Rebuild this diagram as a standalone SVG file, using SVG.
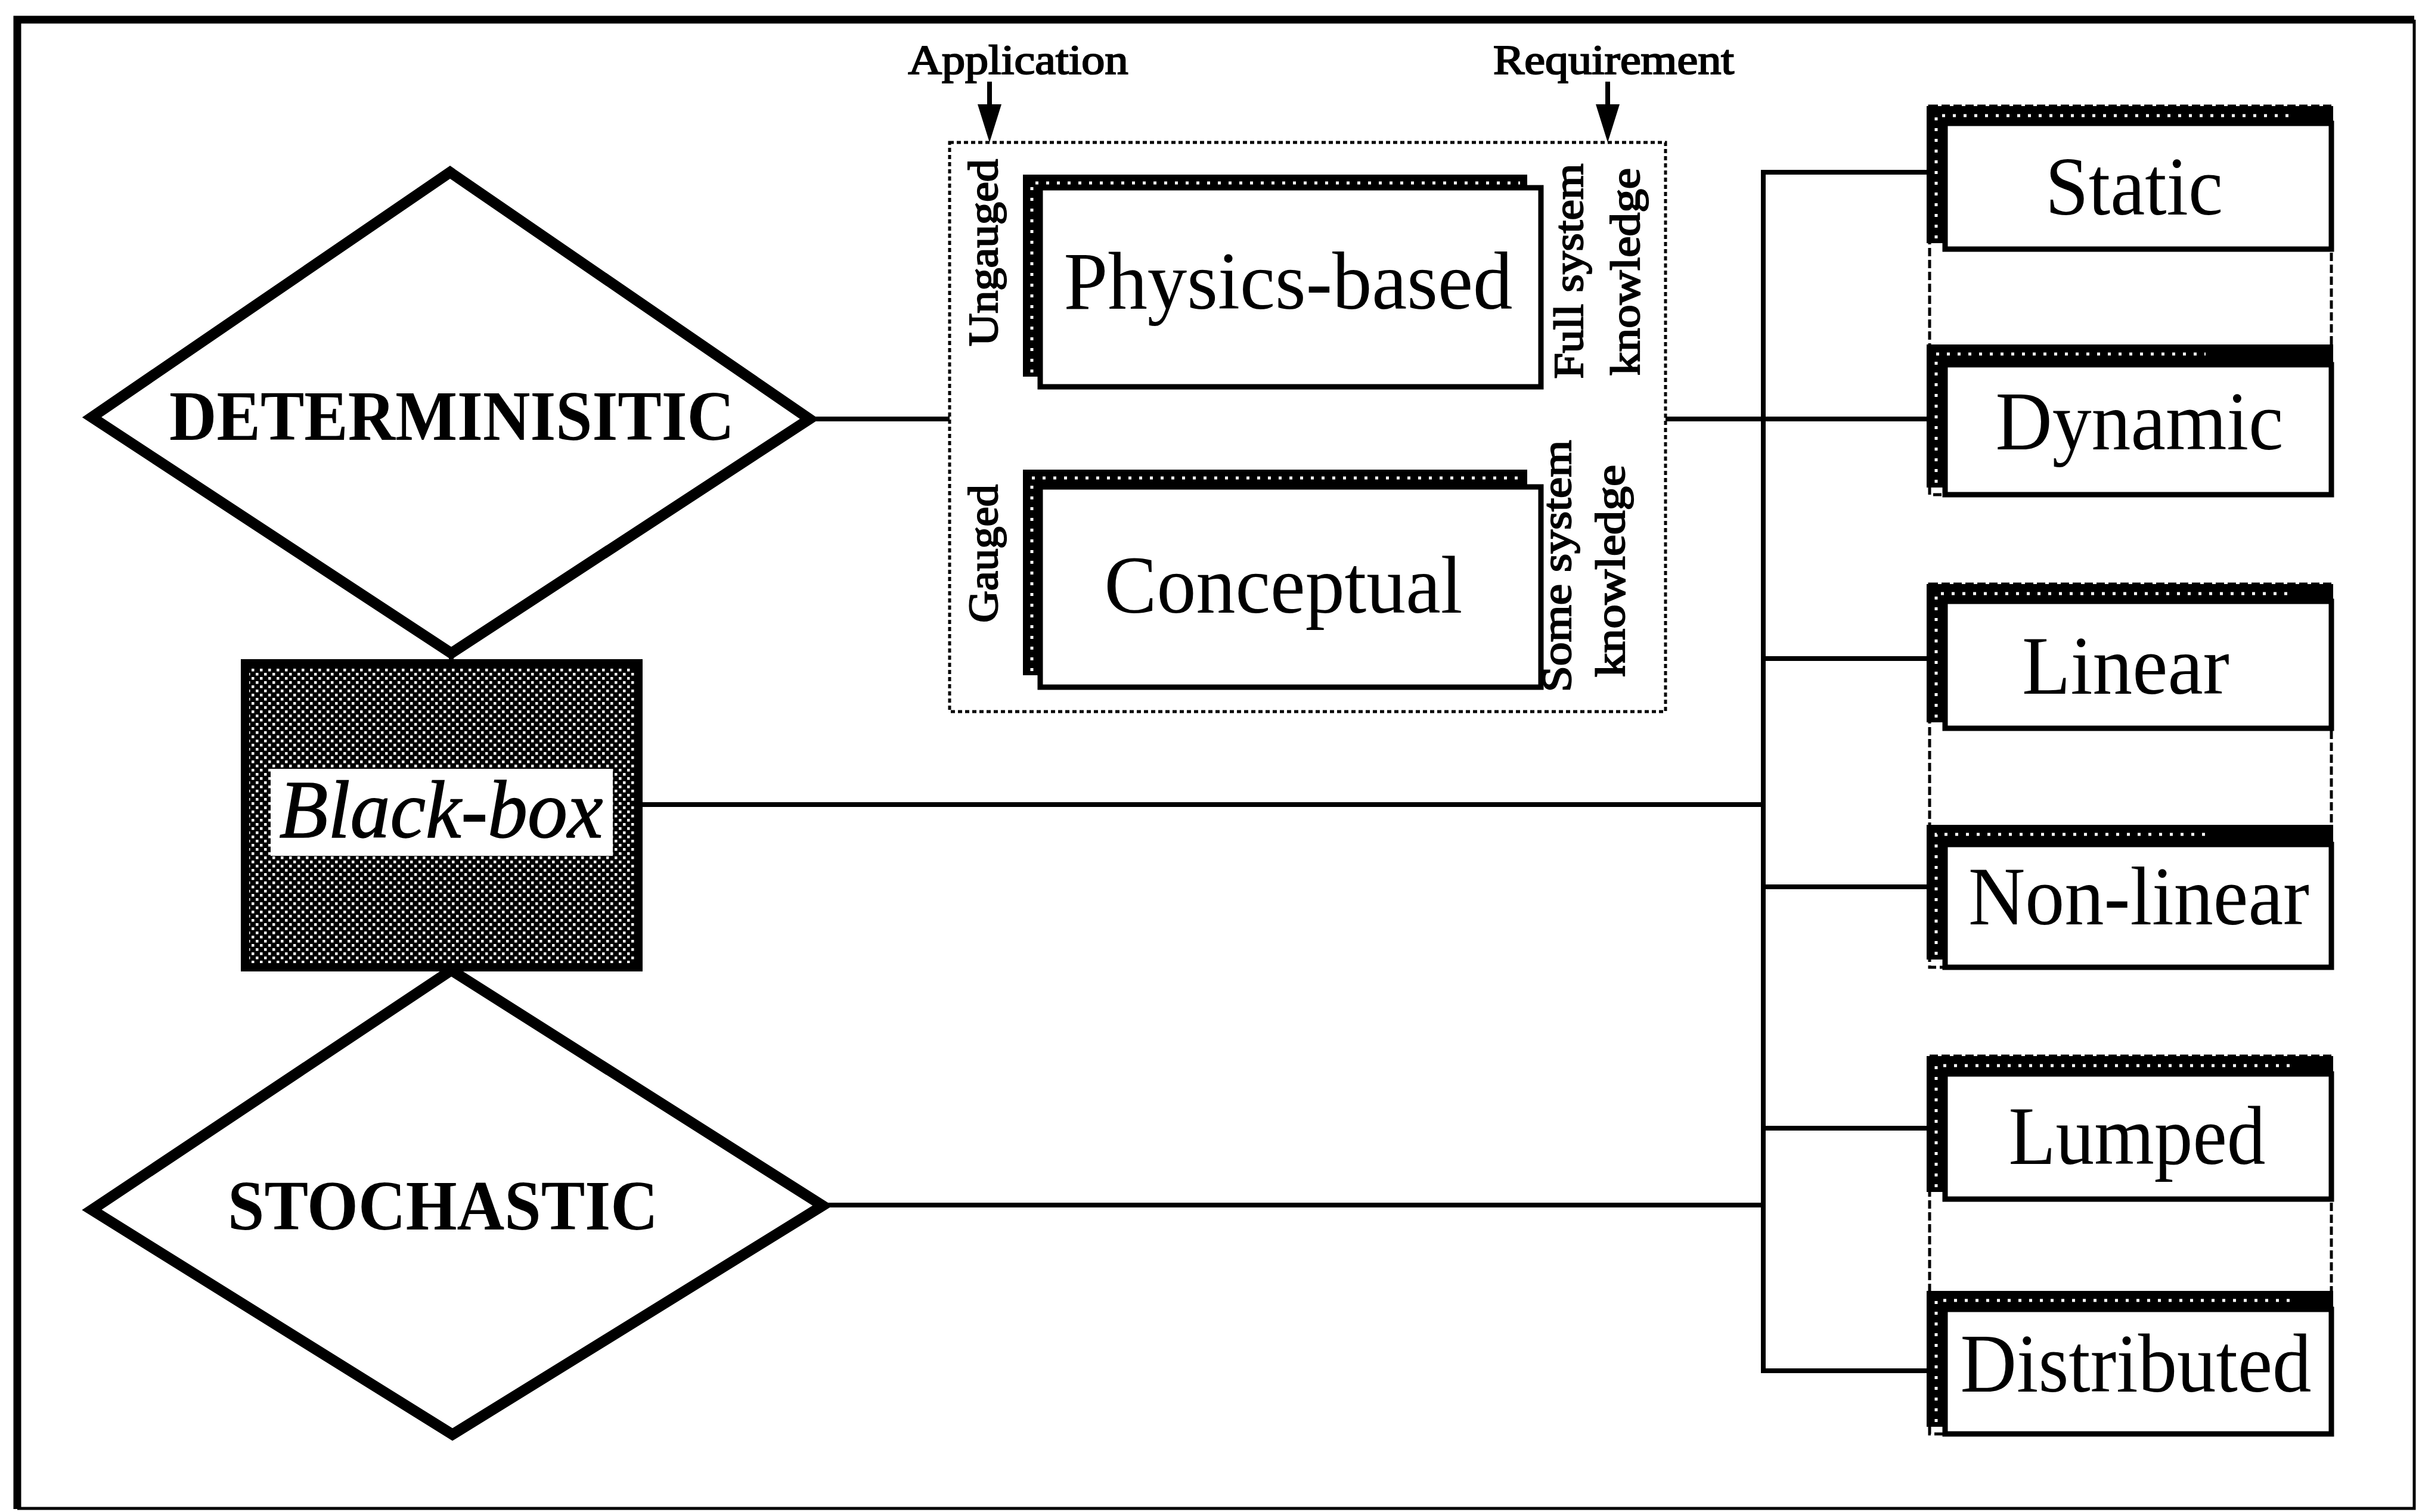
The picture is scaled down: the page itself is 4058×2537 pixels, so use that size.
<svg xmlns="http://www.w3.org/2000/svg" width="4058" height="2537" viewBox="0 0 4058 2537">
  <style>
    .serif { font-family: "Liberation Serif", "Times New Roman", serif; fill: #000; }
    .big { font-size: 140px; }
    .head { font-size: 118px; font-weight: bold; }
    .small { font-size: 70px; stroke: #000; stroke-width: 2.2; }
    .wire { stroke: #000; stroke-width: 8; fill: none; }
    .diamond { fill: #fff; stroke: #000; stroke-width: 18; stroke-linejoin: miter; }
    .shadow { fill: #000; }
    .dots { fill: none; stroke: #fff; stroke-width: 5; stroke-dasharray: 5 13; }
    .box { fill: #fff; stroke: #000; stroke-width: 9; }
    .outline { fill: none; stroke: #000; stroke-width: 5; stroke-dasharray: 14 6; }
    .dotted { fill: none; stroke: #000; stroke-width: 5; stroke-dasharray: 7 5; }
  </style>
  <defs>
    <pattern id="stipple" width="14" height="14" patternUnits="userSpaceOnUse">
      <rect width="14" height="14" fill="#000"/>
      <rect x="2" y="2" width="4.5" height="4.5" fill="#fff"/>
      <rect x="9" y="9" width="4.5" height="4.5" fill="#fff"/>
    </pattern>
    <marker id="arrowhead" viewBox="0 0 64 40" refX="15" refY="20" markerWidth="64" markerHeight="40" markerUnits="userSpaceOnUse" orient="auto">
      <path d="M0,0 L64,20 L0,40 z" fill="#000"/>
    </marker>
  </defs>

  <rect width="4058" height="2537" fill="#fff"/>

  <!-- outer frame: heavy top/left rules, light right/bottom rules -->
  <g id="frame" stroke="#000" fill="none">
    <path d="M29,2532 V33 H4050" stroke-width="13"/>
    <path d="M4050,33 V2531 H29" stroke-width="5"/>
  </g>

  <!-- connectors -->
  <g id="connectors">
    <line class="wire" x1="2958" y1="285" x2="2958" y2="2304"/>
    <line class="wire" x1="2958" y1="289" x2="3234" y2="289"/>
    <line class="wire" x1="1350" y1="703" x2="1593" y2="703"/>
    <line class="wire" x1="2794" y1="703" x2="3234" y2="703"/>
    <line class="wire" x1="2958" y1="1105" x2="3234" y2="1105"/>
    <line class="wire" x1="1071" y1="1350" x2="2958" y2="1350" stroke-width="10"/>
    <line class="wire" x1="2958" y1="1488" x2="3234" y2="1488"/>
    <line class="wire" x1="2958" y1="1893" x2="3234" y2="1893"/>
    <line class="wire" x1="1372" y1="2022" x2="2958" y2="2022"/>
    <line class="wire" x1="2958" y1="2300" x2="3234" y2="2300"/>
    <line class="wire" x1="757" y1="1090" x2="757" y2="1115" stroke-width="12"/>
    <line class="wire" x1="757" y1="1620" x2="757" y2="1632" stroke-width="12"/>
    <line class="wire" x1="1660" y1="137" x2="1660" y2="190" marker-end="url(#arrowhead)"/>
    <line class="wire" x1="2697" y1="137" x2="2697" y2="190" marker-end="url(#arrowhead)"/>
  </g>

  <!-- arrow labels -->
  <g id="label-application">
    <text class="serif small" x="1708" y="124" text-anchor="middle" textLength="369" lengthAdjust="spacingAndGlyphs">Application</text>
  </g>
  <g id="label-requirement">
    <text class="serif small" x="2707" y="124" text-anchor="middle" textLength="404" lengthAdjust="spacingAndGlyphs">Requirement</text>
  </g>

  <!-- deterministic decision -->
  <g id="node-deterministic">
    <polygon class="diamond" points="755,289 1358,703 757,1096 154,700"/>
    <text class="serif head" x="758" y="738" text-anchor="middle" textLength="948" lengthAdjust="spacingAndGlyphs">DETERMINISITIC</text>
  </g>

  <!-- black-box model -->
  <g id="node-blackbox">
    <rect x="411" y="1113" width="660" height="510" fill="url(#stipple)" stroke="#000" stroke-width="14"/>
    <rect x="454" y="1290" width="574" height="146" fill="#fff"/>
    <text class="serif" x="740" y="1405" font-size="137" font-style="italic" stroke="#000" stroke-width="1.5" text-anchor="middle" textLength="543" lengthAdjust="spacingAndGlyphs">Black-box</text>
  </g>

  <!-- stochastic decision -->
  <g id="node-stochastic">
    <polygon class="diamond" points="757,1628 1380,2023 759,2407 154,2030"/>
    <text class="serif head" x="743" y="2063" text-anchor="middle" font-size="112" textLength="722" lengthAdjust="spacingAndGlyphs">STOCHASTIC</text>
  </g>

  <!-- deterministic model families -->
  <g id="node-model-family">
    <rect class="dotted" x="1593" y="239" width="1201" height="955"/>
    <g id="node-physics">
      <rect class="shadow" x="1716" y="293" width="846" height="339"/>
      <path class="dots" d="M1731,625 V307 H2550"/>
      <rect class="box" x="1745" y="315" width="840" height="334"/>
      <text class="serif" x="2161" y="518" font-size="137" text-anchor="middle" textLength="753" lengthAdjust="spacingAndGlyphs">Physics-based</text>
    </g>
    <g id="node-conceptual">
      <rect class="shadow" x="1716" y="788" width="846" height="345"/>
      <path class="dots" d="M1731,1126 V802 H2550"/>
      <rect class="box" x="1745" y="817" width="840" height="336"/>
      <text class="serif" x="2153" y="1028" font-size="137" text-anchor="middle" textLength="601" lengthAdjust="spacingAndGlyphs">Conceptual</text>
    </g>
    <text class="serif small" transform="translate(1673,424) rotate(-90)" text-anchor="middle" textLength="314" lengthAdjust="spacingAndGlyphs">Ungauged</text>
    <text class="serif small" transform="translate(1673,929) rotate(-90)" text-anchor="middle" textLength="232" lengthAdjust="spacingAndGlyphs">Gauged</text>
    <text class="serif small" transform="translate(2655,455) rotate(-90)" text-anchor="middle" textLength="361" lengthAdjust="spacingAndGlyphs">Full system</text>
    <text class="serif small" transform="translate(2750,456) rotate(-90)" text-anchor="middle" textLength="348" lengthAdjust="spacingAndGlyphs">knowledge</text>
    <text class="serif small" transform="translate(2635,950) rotate(-90)" text-anchor="middle" textLength="423" lengthAdjust="spacingAndGlyphs">Some system</text>
    <text class="serif small" transform="translate(2725,958) rotate(-90)" text-anchor="middle" textLength="356" lengthAdjust="spacingAndGlyphs">knowledge</text>
  </g>

  <!-- static / dynamic -->
  <g id="pair-time">
    <rect class="outline" x="3237" y="178" width="674" height="652"/>
    <g id="node-static">
      <rect class="shadow" x="3232" y="178" width="682" height="230"/>
      <path class="dots" d="M3248,400 V194 H3850"/>
      <rect class="box" x="3263" y="207" width="648" height="211"/>
      <text class="serif big" x="3580" y="360" text-anchor="middle" textLength="298" lengthAdjust="spacingAndGlyphs">Static</text>
    </g>
    <g id="node-dynamic">
      <rect class="shadow" x="3232" y="578" width="682" height="240"/>
      <path class="dots" d="M3248,810 V594 H3700"/>
      <rect class="box" x="3263" y="612" width="648" height="218"/>
      <text class="serif big" x="3589" y="754" text-anchor="middle" textLength="483" lengthAdjust="spacingAndGlyphs">Dynamic</text>
    </g>
  </g>

  <!-- linear / non-linear -->
  <g id="pair-linearity">
    <rect class="outline" x="3237" y="980" width="674" height="643"/>
    <g id="node-linear">
      <rect class="shadow" x="3232" y="980" width="682" height="232"/>
      <path class="dots" d="M3248,1204 V996 H3850"/>
      <rect class="box" x="3263" y="1009" width="648" height="213"/>
      <text class="serif big" x="3566" y="1164" text-anchor="middle" textLength="348" lengthAdjust="spacingAndGlyphs">Linear</text>
    </g>
    <g id="node-nonlinear">
      <rect class="shadow" x="3232" y="1384" width="682" height="226"/>
      <path class="dots" d="M3248,1602 V1400 H3700"/>
      <rect class="box" x="3263" y="1417" width="648" height="206"/>
      <text class="serif big" x="3588" y="1551" text-anchor="middle" textLength="572" lengthAdjust="spacingAndGlyphs">Non-linear</text>
    </g>
  </g>

  <!-- lumped / distributed -->
  <g id="pair-space">
    <rect class="outline" x="3237" y="1772" width="674" height="634"/>
    <g id="node-lumped">
      <rect class="shadow" x="3232" y="1772" width="682" height="228"/>
      <path class="dots" d="M3248,1992 V1788 H3850"/>
      <rect class="box" x="3263" y="1802" width="648" height="210"/>
      <text class="serif big" x="3585" y="1953" text-anchor="middle" textLength="431" lengthAdjust="spacingAndGlyphs">Lumped</text>
    </g>
    <g id="node-distributed">
      <rect class="shadow" x="3232" y="2166" width="682" height="228"/>
      <path class="dots" d="M3248,2386 V2182 H3850"/>
      <rect class="box" x="3263" y="2197" width="648" height="209"/>
      <text class="serif big" x="3583" y="2335" text-anchor="middle" textLength="589" lengthAdjust="spacingAndGlyphs">Distributed</text>
    </g>
  </g>
</svg>
